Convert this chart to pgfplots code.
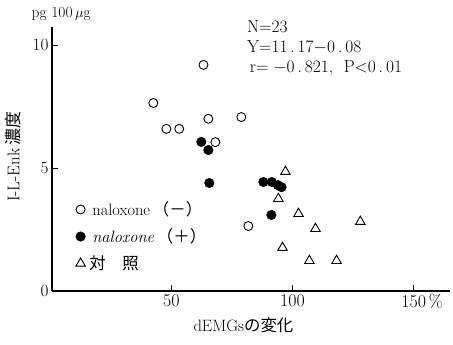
\documentclass[border=0pt]{standalone}
\usepackage{pgfplots}
\pgfplotsset{compat=1.18}
\usepackage{fontspec}
\newfontfamily\cjk{Noto Sans CJK JP}
\begin{document}
\begin{tikzpicture}
\useasboundingbox (-52bp,-54bp) rectangle (401bp,291bp);
\begin{axis}[
  scale only axis, width=398bp, height=264bp,
  xmin=0.8, xmax=165, ymin=0, ymax=10.73,
  axis lines=left, axis line style={-, line width=1.1pt},
  xtick={50,100,150}, xticklabels={50,100,150\rlap{\,\%}},
  ytick={0,5,10},
  tick align=inside,
  tick style={black, line width=0.8pt}, major tick length=6bp,
  tick label style={font=\fontsize{18}{18}\selectfont},
  clip=false,
  legend style={draw=none, fill=none, at={(axis cs:9.3,3.8)}, anchor=north west,
    font=\fontsize{16.5}{17}\selectfont, row sep=7.5bp,
    /tikz/every odd column/.append style={column sep=5bp}},
  legend cell align=left,
]
\addplot[only marks, mark=o, mark size=4.5bp, line width=0.9pt, black] coordinates {
 (42.6,7.64) (48,6.59) (53.3,6.59) (65.3,7.0) (68.2,6.05) (63.3,9.19) (78.9,7.07) (81.8,2.64)
};
\addlegendentry{naloxone\,{\cjk （－）}}
\addplot[only marks, mark=*, mark size=4.8bp, black] coordinates {
 (62.4,6.06) (65.3,5.73) (65.7,4.39) (88,4.43) (91.5,4.43) (94,4.3) (95.5,4.22) (91.3,3.09)
};
\addlegendentry{\textit{naloxone}\,{\cjk （＋）}}
\addplot[only marks, mark=triangle, mark size=5.5bp, line width=0.9pt, black] coordinates {
 (97.1,4.85) (94.2,3.75) (102.5,3.14) (109.5,2.53) (128,2.82) (95.9,1.76) (107,1.23) (118.2,1.23)
};
\addlegendentry{\hspace{-3bp}{\cjk 対　照}}
\node[anchor=north west, align=left, inner sep=0pt, font=\fontsize{17.5}{20}\selectfont] at (axis cs:81.2,10.98)
  {N$=$23\\ Y$=$11\,.\,17$-$0\,.\,08\\ \,r$=-$0\,.\,821,\ \ P$<$0\,.\,01};
\node[font=\fontsize{15.5}{15.5}\selectfont] at (axis cs:4.6,11.26) {pg 100\,$\mu$g};
\node[rotate=90, font=\fontsize{17}{17}\selectfont] at (axis cs:-15.3,5.45) {I-L-Enk\,{\cjk 濃度}};
\node[font=\fontsize{16.5}{16.5}\selectfont] at (axis cs:79.8,-1.38) {dEMGs{\cjk の変化}};
\end{axis}
\end{tikzpicture}
\end{document}
